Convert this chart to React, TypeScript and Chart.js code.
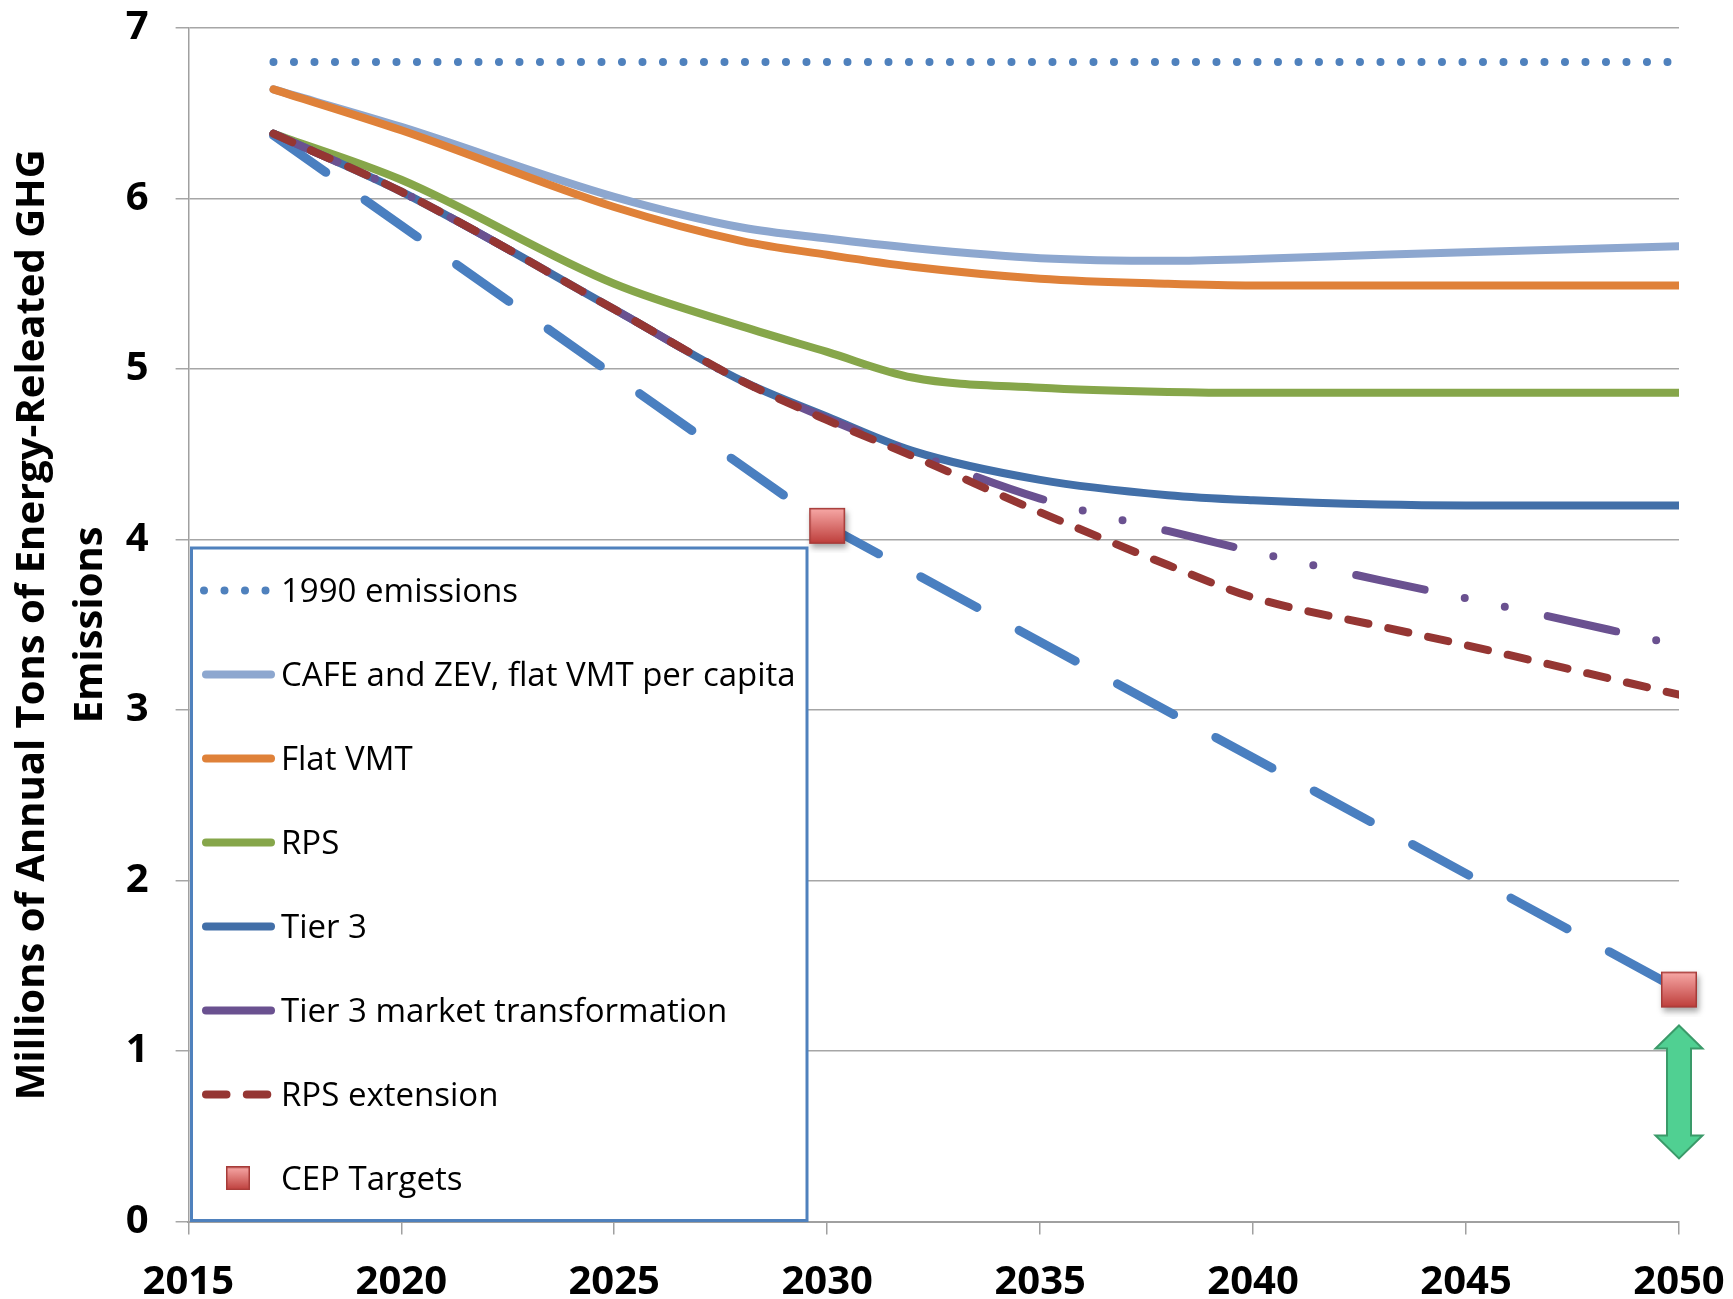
import React, { useEffect, useRef } from 'react';
import { Chart, registerables } from 'chart.js';

Chart.register(...registerables);

// ---------------- data ----------------
const years = [2017, 2020, 2025, 2028, 2030, 2032, 2035, 2038, 2040, 2043, 2045, 2050];
const emissions1990 = [6.8, 6.8, 6.8, 6.8, 6.8, 6.8, 6.8, 6.8, 6.8, 6.8, 6.8, 6.8];
const cafeZev = [6.64, 6.42, 6.01, 5.83, 5.765, 5.71, 5.65, 5.635, 5.645, 5.67, 5.685, 5.72];
const flatVmt = [6.64, 6.4, 5.95, 5.75, 5.67, 5.6, 5.53, 5.5, 5.49, 5.49, 5.49, 5.49];
const rps = [6.38, 6.11, 5.5, 5.25, 5.1, 4.95, 4.89, 4.865, 4.86, 4.86, 4.86, 4.86];
const tier3 = [6.38, 6.04, 5.35, 4.93, 4.72, 4.52, 4.35, 4.26, 4.23, 4.205, 4.2, 4.2];
const tier3Market = [6.38, 6.04, 5.35, 4.93, 4.71, 4.51, 4.24, 4.05, 3.93, 3.76, 3.655, 3.38];
const rpsExtension = [6.38, 6.04, 5.35, 4.93, 4.7, 4.49, 4.16, 3.85, 3.66, 3.49, 3.38, 3.09];

const cepPathYears = [2017, 2030, 2050];
const cepPathValues = [6.37, 4.08, 1.36];
const cepTargetYears = [2030, 2050];
const cepTargetValues = [4.08, 1.36];

const gapArrowYear = 2050;
const gapArrowRange = [0.37, 1.15];

const xRange = [2015, 2050];
const yRange = [0, 7];

const yTitle = ['Millions of Annual Tons of Energy-Releated GHG', 'Emissions'];

// ---------------- styles ----------------
const FONT = '"Open Sans", "Noto Sans", sans-serif';

function markerCanvas(size: number, pad: number, shadow: boolean) {
  const c = document.createElement('canvas');
  c.width = size + pad * 2;
  c.height = size + pad * 2;
  const g = c.getContext('2d') as CanvasRenderingContext2D;
  g.save();
  if (shadow) {
    g.shadowColor = 'rgba(0,0,0,0.35)';
    g.shadowBlur = 6;
    g.shadowOffsetX = 2;
    g.shadowOffsetY = 4;
  }
  const grad = g.createLinearGradient(0, pad, 0, pad + size);
  grad.addColorStop(0, '#F8AAA8');
  grad.addColorStop(1, '#BD3D3A');
  g.fillStyle = grad;
  g.fillRect(pad, pad, size, size);
  g.restore();
  g.strokeStyle = '#A63B38';
  g.lineWidth = 1.5;
  g.strokeRect(pad + 0.75, pad + 0.75, size - 1.5, size - 1.5);
  return c;
}

const toPoints = (xs: number[], ys: number[]) => xs.map((x, i) => ({ x, y: ys[i] }));

function lineSet(label: string, values: number[], color: string, width: number, dash: number[], order: number) {
  return {
    type: 'line' as const,
    label,
    data: toPoints(years, values),
    borderColor: color,
    backgroundColor: color,
    borderWidth: width,
    borderDash: dash,
    borderCapStyle: 'round' as const,
    borderJoinStyle: 'round' as const,
    pointRadius: 0,
    pointHoverRadius: 0,
    cubicInterpolationMode: 'monotone' as const,
    fill: false,
    order,
    clip: 0,
  };
}

const legendLayout = {
  left: 191.5,
  top: 548,
  right: 807,
  firstBaseline: 602,
  step: 84,
  sampleX1: 206,
  sampleX2: 271,
  textX: 281,
  font: '33px ' + FONT,
};

const legendPlugin = {
  id: 'boxLegend',
  afterDraw(chart: any) {
    const ctx = chart.ctx as CanvasRenderingContext2D;
    const L = legendLayout;
    const bottom = chart.chartArea.bottom;
    ctx.save();
    ctx.fillStyle = '#ffffff';
    ctx.fillRect(L.left, L.top, L.right - L.left, bottom - L.top);
    ctx.strokeStyle = '#4F81BD';
    ctx.lineWidth = 3;
    ctx.strokeRect(L.left, L.top, L.right - L.left, bottom - L.top - 1);
    const items = chart.data.datasets.filter((d: any) => d.inLegend !== false);
    items.forEach((d: any, i: number) => {
      const base = L.firstBaseline + i * L.step;
      const cy = base - 11.6;
      if (d.legendMarker) {
        const m = d.legendMarker as HTMLCanvasElement;
        ctx.drawImage(m, 238 - m.width / 2, cy - m.height / 2);
      } else {
        ctx.beginPath();
        ctx.setLineDash(d.borderDash || []);
        ctx.lineDashOffset = 0;
        ctx.lineCap = 'round';
        ctx.strokeStyle = d.borderColor;
        ctx.lineWidth = d.borderWidth;
        const x1 = d.legendX1 ?? L.sampleX1;
        const x2 = d.legendX2 ?? L.sampleX2;
        ctx.moveTo(x1, cy);
        ctx.lineTo(x2, cy);
        ctx.stroke();
        ctx.setLineDash([]);
      }
      ctx.fillStyle = '#000000';
      ctx.font = L.font;
      ctx.textAlign = 'left';
      ctx.textBaseline = 'alphabetic';
      ctx.fillText(d.label, L.textX, base);
    });
    ctx.restore();
  },
};

const arrowPlugin = {
  id: 'gapArrow',
  afterDatasetsDraw(chart: any) {
    const ctx = chart.ctx as CanvasRenderingContext2D;
    const x = chart.scales.x.getPixelForValue(gapArrowYear);
    const yTop = chart.scales.y.getPixelForValue(gapArrowRange[1]);
    const yBot = chart.scales.y.getPixelForValue(gapArrowRange[0]);
    const hw = 23.5;
    const sw = 12;
    const hl = 23;
    ctx.save();
    ctx.beginPath();
    ctx.moveTo(x, yTop);
    ctx.lineTo(x + hw, yTop + hl);
    ctx.lineTo(x + sw, yTop + hl);
    ctx.lineTo(x + sw, yBot - hl);
    ctx.lineTo(x + hw, yBot - hl);
    ctx.lineTo(x, yBot);
    ctx.lineTo(x - hw, yBot - hl);
    ctx.lineTo(x - sw, yBot - hl);
    ctx.lineTo(x - sw, yTop + hl);
    ctx.lineTo(x - hw, yTop + hl);
    ctx.closePath();
    ctx.fillStyle = '#50D092';
    ctx.fill();
    ctx.strokeStyle = '#3A9A69';
    ctx.lineWidth = 2;
    ctx.lineJoin = 'miter';
    ctx.stroke();
    ctx.restore();
  },
};

export default function App() {
  const ref = useRef<HTMLCanvasElement>(null);

  useEffect(() => {
    document.body.style.margin = '0';
    let chart: Chart | null = null;
    let cancelled = false;
    const fontsReady: Promise<any> = (document as any).fonts
      ? Promise.all([
          (document as any).fonts.load('bold 40px "Open Sans"'),
          (document as any).fonts.load('33px "Open Sans"'),
        ]).catch(() => null)
      : Promise.resolve(null);

    fontsReady.then(() => {
      if (cancelled || !ref.current) return;
      const bigMarker = markerCanvas(36, 9, true);
      const smallMarker = markerCanvas(24, 0, false);

      const datasets: any[] = [
        { ...lineSet('1990 emissions', emissions1990, '#4F81BD', 8, [0, 20.5], 7), legendX1: 204, legendX2: 268 },
        lineSet('CAFE and ZEV, flat VMT per capita', cafeZev, '#8DA7CF', 8, [], 6),
        lineSet('Flat VMT', flatVmt, '#DF8139', 8, [], 5),
        lineSet('RPS', rps, '#86A64A', 8, [], 4),
        lineSet('Tier 3', tier3, '#426FA8', 8, [], 3),
        lineSet('Tier 3 market transformation', tier3Market, '#6A5190', 8, [70, 41, 0, 41, 0, 44], 2),
        lineSet('RPS extension', rpsExtension, '#953633', 8, [20.5, 20.3], 1),
        {
          type: 'line',
          label: 'CEP Targets',
          data: toPoints(cepTargetYears, cepTargetValues),
          showLine: false,
          pointStyle: bigMarker,
          pointRadius: 18,
          pointHoverRadius: 18,
          order: 0,
          clip: false,
          legendMarker: smallMarker,
        },
        {
          type: 'line',
          label: 'CEP target path',
          data: toPoints(cepPathYears, cepPathValues),
          borderColor: '#4A7FC0',
          borderWidth: 9,
          borderDash: [64, 48],
          borderCapStyle: 'round',
          pointRadius: 0,
          pointHoverRadius: 0,
          tension: 0,
          fill: false,
          order: 8,
          clip: 0,
          inLegend: false,
        },
      ];

      chart = new Chart(ref.current, {
        type: 'line',
        data: { datasets },
        options: {
          animation: false,
          responsive: false,
          devicePixelRatio: 1,
          events: [],
          layout: { padding: { top: 28, right: 54, bottom: 0, left: 0 } },
          plugins: { legend: { display: false }, tooltip: { enabled: false } },
          scales: {
            x: {
              type: 'linear',
              min: xRange[0],
              max: xRange[1],
              ticks: {
                stepSize: 5,
                callback: (v: any) => String(v),
                font: { family: FONT, size: 40, weight: 'bold' },
                color: '#000000',
                padding: 24,
                maxRotation: 0,
                autoSkip: false,
              },
              grid: { drawOnChartArea: false, drawTicks: true, tickLength: 13, color: '#A0A0A0', lineWidth: 1.5 },
              border: { color: '#A0A0A0', width: 2 },
              afterFit: (s: any) => {
                s.height = 77.5;
                s.paddingLeft = 0;
                s.paddingRight = 0;
              },
            },
            y: {
              type: 'linear',
              min: yRange[0],
              max: yRange[1],
              ticks: {
                stepSize: 1,
                font: { family: FONT, size: 40, weight: 'bold' },
                color: '#000000',
                padding: 27,
              },
              grid: { color: '#A6A6A6', lineWidth: 1.5, tickLength: 12.7 },
              border: { color: '#A0A0A0', width: 1.5 },
              title: {
                display: true,
                text: yTitle,
                color: '#000000',
                font: { family: FONT, size: 40, weight: 'bold', lineHeight: '58px' },
                padding: { top: 4, bottom: 0 },
              },
              afterFit: (s: any) => {
                s.width = 188.3;
                s.paddingTop = 0;
                s.paddingBottom = 0;
              },
            },
          },
        } as any,
        plugins: [arrowPlugin, legendPlugin],
      } as any);
    });

    return () => {
      cancelled = true;
      if (chart) chart.destroy();
    };
  }, []);

  return (
    <canvas
      ref={ref}
      width={1733}
      height={1299}
      style={{ display: 'block', width: '1733px', height: '1299px' }}
    />
  );
}
